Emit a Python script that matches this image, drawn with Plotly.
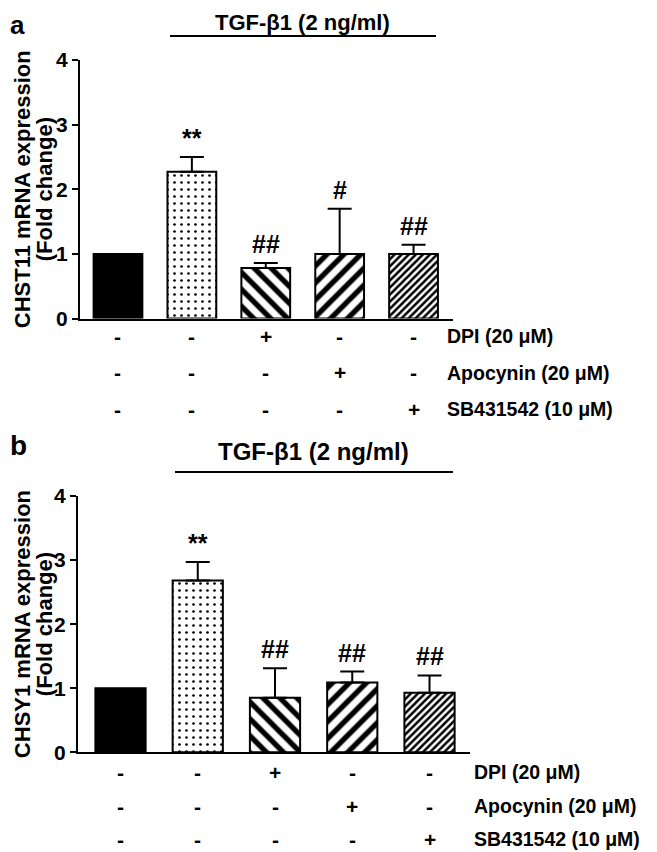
import plotly.graph_objects as go

# The page body adds an 8px margin, so the figure is made 8px smaller and
# all reference pixel positions are shifted by that offset.
W, H = 657, 852
OFF = 8
FW, FH = W - OFF, H - OFF

# ---------------- data ----------------
groups = ["Control", "TGF-b1", "TGF-b1+DPI", "TGF-b1+Apocynin", "TGF-b1+SB431542"]
chst11_mean = [1.00, 2.27, 0.78, 1.00, 1.00]
chst11_sd = [0.00, 0.23, 0.08, 0.70, 0.14]
chst11_sig = ["", "**", "##", "#", "##"]

chsy1_mean = [1.00, 2.68, 0.85, 1.09, 0.93]
chsy1_sd = [0.00, 0.29, 0.46, 0.17, 0.27]
chsy1_sig = ["", "**", "##", "##", "##"]

dpi_row = ["-", "-", "+", "-", "-"]
apo_row = ["-", "-", "-", "+", "-"]
sb_row = ["-", "-", "-", "-", "+"]
row_labels = ["DPI (20 \u03bcM)", "Apocynin (20 \u03bcM)", "SB431542 (10 \u03bcM)"]
y_ticks = [0, 1, 2, 3, 4]

# ---------------- styling ----------------
FONT = "Liberation Sans, Arial, sans-serif"
pattern_shapes = ["", ".", "\\", "/", "/"]
pattern_sizes = [8, 7, 12, 12, 5]
pattern_solid = [0.2, 0.12, 0.45, 0.45, 0.5]
bar_colors = ["black", "white", "white", "white", "white"]


def px_x(v):
    return (v - OFF) / FW


def px_y(v):
    return 1 - (v - OFF) / FH


panels = [
    dict(mean=chst11_mean, sd=chst11_sd, sig=chst11_sig, xa="x", ya="y",
         xdom=[80, 453], xr=[-0.514, 4.534], ydom=[318.5, 60], width=0.66,
         rows=[336, 373, 409], lab_x=445, title="CHST11 mRNA expression",
         tgf_y=8, tgf_x=302, tgf_size=22, line=[170, 436, 36],
         letter="a", letter_y=8, letter_size=26),
    dict(mean=chsy1_mean, sd=chsy1_sd, sig=chsy1_sig, xa="x2", ya="y2",
         xdom=[78, 470], xr=[-0.55, 4.524], ydom=[752.3, 496], width=0.65,
         rows=[772, 806, 839], lab_x=472, title="CHSY1 mRNA expression",
         tgf_y=436, tgf_x=313, tgf_size=24, line=[175, 453, 472],
         letter="b", letter_y=428, letter_size=28),
]

fig = go.Figure()
annotations = []
shapes = []

for i, p in enumerate(panels):
    for j in range(len(groups)):
        pat = dict(shape=pattern_shapes[j], size=pattern_sizes[j],
                   solidity=pattern_solid[j], fgcolor="black",
                   fgopacity=1, fillmode="overlay")
        fig.add_trace(go.Bar(
            x=[j], y=[p["mean"][j]],
            width=p["width"],
            marker=dict(color=bar_colors[j],
                        line=dict(color="black", width=2),
                        pattern=pat),
            error_y=dict(type="data", symmetric=False, array=[p["sd"][j]],
                         arrayminus=[0], color="black",
                         thickness=2, width=12, visible=p["sd"][j] > 0),
            xaxis=p["xa"], yaxis=p["ya"], showlegend=False,
            name=groups[j],
        ))
    sfx = "" if i == 0 else "2"
    fig.update_layout(**{
        "xaxis" + sfx: dict(domain=[px_x(p["xdom"][0]), px_x(p["xdom"][1])],
                            range=p["xr"], showline=True, linewidth=2,
                            linecolor="black", showticklabels=False,
                            ticks="", showgrid=False, zeroline=False,
                            anchor="y" + sfx, fixedrange=True,
                            automargin=False),
        "yaxis" + sfx: dict(domain=[px_y(p["ydom"][0]), px_y(p["ydom"][1])],
                            range=[0, 4], tickvals=y_ticks, showline=True,
                            linewidth=2, linecolor="black", ticks="outside",
                            ticklen=6, tickwidth=2, tickcolor="black",
                            showgrid=False, zeroline=False,
                            tickfont=dict(family=FONT, size=21, color="black",
                                          weight="bold"),
                            anchor="x" + sfx, fixedrange=True,
                            automargin=False),
    })

    # significance markers
    for j, s in enumerate(p["sig"]):
        if s:
            annotations.append(dict(
                x=j, y=p["mean"][j] + p["sd"][j], xref=p["xa"], yref=p["ya"],
                text=s, showarrow=False, yanchor="middle", yshift=19,
                font=dict(family=FONT, size=25, color="black", weight="bold")))

    # treatment rows
    for r, row in enumerate([dpi_row, apo_row, sb_row]):
        for j, s in enumerate(row):
            annotations.append(dict(
                x=j, y=px_y(p["rows"][r]), xref=p["xa"], yref="paper",
                text=s, showarrow=False, yanchor="middle",
                font=dict(family=FONT, size=21, color="black", weight="bold")))
        annotations.append(dict(
            x=px_x(p["lab_x"]), y=px_y(p["rows"][r]), xref="paper",
            yref="paper", text=row_labels[r], showarrow=False,
            xanchor="left", yanchor="middle",
            font=dict(family=FONT, size=19.5, color="black", weight="bold")))

    # y axis title (two rotated lines)
    yc = (p["ydom"][0] + p["ydom"][1]) / 2
    for txt, xc in [(p["title"], 22), ("(Fold change)", 44)]:
        annotations.append(dict(
            x=px_x(xc), y=px_y(yc), xref="paper", yref="paper",
            text=txt, textangle=-90,
            showarrow=False, xanchor="center", yanchor="middle",
            font=dict(family=FONT, size=22, color="black", weight="bold")))

    # TGF title & line
    annotations.append(dict(
        x=px_x(p["tgf_x"]), y=px_y(p["tgf_y"]), xref="paper", yref="paper",
        text="TGF-\u03b21 (2 ng/ml)", showarrow=False, xanchor="center",
        yanchor="top",
        font=dict(family=FONT, size=p["tgf_size"], color="black",
                  weight="bold")))
    shapes.append(dict(type="line", xref="paper", yref="paper",
                       x0=px_x(p["line"][0]), x1=px_x(p["line"][1]),
                       y0=px_y(p["line"][2]), y1=px_y(p["line"][2]),
                       line=dict(color="black", width=2)))

    # panel letter
    annotations.append(dict(
        x=0, y=px_y(p["letter_y"]), xref="paper", yref="paper",
        text=p["letter"], showarrow=False, xanchor="left", yanchor="top",
        font=dict(family=FONT, size=p["letter_size"], color="black",
                  weight="bold")))

fig.update_layout(
    width=FW, height=FH,
    margin=dict(l=0, r=0, t=0, b=0, autoexpand=False),
    paper_bgcolor="white", plot_bgcolor="white",
    annotations=annotations, shapes=shapes,
    barmode="overlay",
)

fig.write_html("out.html")
